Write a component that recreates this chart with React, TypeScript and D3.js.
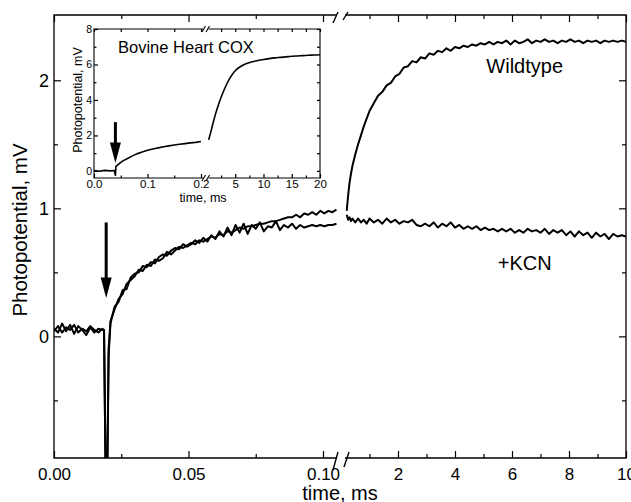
import React, { useRef, useEffect } from "react";
import * as d3 from "d3";

// main panel, early window (ms)
const tEarly = [
  0, 0.0015, 0.003, 0.0045, 0.006, 0.0075, 0.009, 0.0105, 0.012, 0.0135, 0.015, 0.0165, 0.018,
  0.0186, 0.0192, 0.0198, 0.0203, 0.021,
  0.0225, 0.024, 0.0255, 0.027, 0.0285, 0.03, 0.0315, 0.033, 0.0345, 0.036, 0.0375, 0.039,
  0.0405, 0.042, 0.0435, 0.045, 0.0465, 0.048, 0.0495, 0.051, 0.0525, 0.054, 0.0555, 0.057,
  0.0585, 0.06, 0.0615, 0.063, 0.0645, 0.066, 0.0675, 0.069, 0.0705, 0.072, 0.0735, 0.075,
  0.0765, 0.078, 0.0795, 0.081, 0.0825, 0.084, 0.0855, 0.087, 0.0885, 0.09, 0.0915, 0.093,
  0.0945, 0.096, 0.0975, 0.099, 0.1005, 0.102, 0.1035, 0.105,
];
const wildEarly = [
  0.06, 0.03, 0.1, 0.04, 0.09, 0.02, 0.08, 0.05, 0.01, 0.07, 0.03, 0.06, 0.05,
  0.05, -1.1, -1.1, -0.1, 0.12,
  0.21, 0.29, 0.33, 0.41, 0.44, 0.47, 0.52, 0.51, 0.56, 0.55, 0.6, 0.59,
  0.61, 0.66, 0.64, 0.67, 0.7, 0.69, 0.71, 0.73, 0.72, 0.75, 0.74, 0.76,
  0.78, 0.77, 0.8, 0.79, 0.82, 0.81, 0.83, 0.85, 0.84, 0.86, 0.86, 0.87,
  0.88, 0.88, 0.89, 0.9, 0.9, 0.91, 0.92, 0.93, 0.93, 0.95, 0.93, 0.96,
  0.95, 0.97, 0.95, 0.98, 0.96, 0.98, 0.97, 0.99,
];
const kcnEarly = [
  0.04, 0.08, 0.03, 0.07, 0.05, 0.09, 0.03, 0.06, 0.04, 0.08, 0.05, 0.03, 0.06,
  0.05, -1.1, -1.1, -0.15, 0.1,
  0.23, 0.27, 0.36, 0.37, 0.46, 0.49, 0.5, 0.55, 0.54, 0.58, 0.57, 0.62,
  0.64, 0.63, 0.67, 0.69, 0.68, 0.72, 0.7, 0.72, 0.75, 0.73, 0.77, 0.74,
  0.79, 0.76, 0.82, 0.78, 0.85, 0.79, 0.87, 0.81, 0.88, 0.8, 0.87, 0.84,
  0.89, 0.82, 0.86, 0.85, 0.9, 0.83, 0.87, 0.85, 0.88, 0.84, 0.87, 0.85,
  0.86, 0.87, 0.86, 0.87, 0.86, 0.87, 0.87, 0.88,
];

// main panel, late window (ms)
const tLate = [
  0.2, 0.25, 0.3, 0.35, 0.4, 0.5, 0.6, 0.7, 0.8, 0.9, 1.0,
  1.15, 1.3, 1.45, 1.6, 1.75, 1.9, 2.05, 2.2, 2.35, 2.5, 2.65, 2.8, 2.95, 3.1, 3.25,
  3.4, 3.55, 3.7, 3.85, 4.0, 4.15, 4.3, 4.45, 4.6, 4.75, 4.9, 5.05, 5.2, 5.35, 5.5,
  5.65, 5.8, 5.95, 6.1, 6.25, 6.4, 6.55, 6.7, 6.85, 7.0, 7.15, 7.3, 7.45, 7.6, 7.75,
  7.9, 8.05, 8.2, 8.35, 8.5, 8.65, 8.8, 8.95, 9.1, 9.25, 9.4, 9.55, 9.7, 9.85, 10.0,
];
const wildLate = [
  0.98, 1.1, 1.2, 1.27, 1.33, 1.42, 1.5, 1.57, 1.64, 1.7, 1.76,
  1.82, 1.88, 1.91, 1.96, 1.98, 2.03, 2.05, 2.1, 2.11, 2.15, 2.14, 2.18, 2.17, 2.21, 2.2,
  2.23, 2.22, 2.25, 2.23, 2.26, 2.25, 2.27, 2.26, 2.28, 2.27, 2.29, 2.28, 2.3, 2.28, 2.3,
  2.29, 2.31, 2.28, 2.31, 2.29, 2.3, 2.32, 2.29, 2.31, 2.3, 2.32, 2.3, 2.31, 2.29, 2.31,
  2.3, 2.32, 2.3, 2.31, 2.29, 2.31, 2.3, 2.31, 2.29, 2.31, 2.3, 2.31, 2.3, 2.31, 2.3,
];
const kcnLate = [
  0.95, 0.91, 0.93, 0.9, 0.92, 0.89, 0.92, 0.89, 0.91, 0.88, 0.92,
  0.89, 0.91, 0.88, 0.92, 0.89, 0.91, 0.88, 0.9, 0.89, 0.91, 0.87, 0.86, 0.88, 0.86, 0.89,
  0.85, 0.88, 0.86, 0.89, 0.85, 0.87, 0.84, 0.86, 0.84, 0.86, 0.83, 0.85, 0.83, 0.84, 0.82,
  0.84, 0.82, 0.84, 0.81, 0.83, 0.81, 0.84, 0.82, 0.83, 0.81, 0.84, 0.8, 0.83, 0.81, 0.83,
  0.79, 0.82, 0.78, 0.82, 0.79, 0.81, 0.77, 0.81, 0.78, 0.8, 0.76, 0.8, 0.78, 0.79, 0.78,
];

// inset: bovine heart COX
const tInsetEarly = [
  0, 0.01, 0.02, 0.03, 0.038, 0.04, 0.041, 0.045, 0.05, 0.055, 0.06, 0.07, 0.08,
  0.09, 0.1, 0.11, 0.12, 0.13, 0.14, 0.15, 0.16, 0.17, 0.18, 0.19, 0.2,
];
const coxEarly = [
  0.02, -0.02, 0.03, 0.0, 0.02, -0.25, 0.25, 0.35, 0.48, 0.58, 0.66, 0.82, 0.96,
  1.07, 1.16, 1.24, 1.3, 1.36, 1.41, 1.46, 1.5, 1.54, 1.58, 1.61, 1.66,
];
const tInsetLate = [
  0.3, 0.6, 1.0, 1.5, 2.0, 2.5, 3.0, 3.5, 4.0, 4.5, 5.0, 6.0, 7.0,
  8.0, 9.0, 10, 11, 12, 13, 14, 15, 16, 17, 18, 19, 20,
];
const coxLate = [
  1.75, 2.1, 2.6, 3.2, 3.7, 4.15, 4.55, 4.9, 5.2, 5.45, 5.65, 5.9, 6.05,
  6.15, 6.22, 6.28, 6.33, 6.37, 6.4, 6.43, 6.46, 6.48, 6.5, 6.52, 6.53, 6.55,
];

const yTicksMain = [0, 1, 2];
const yMinorMain = [-0.5, 0.5, 1.5];
const xTicksEarly = [0, 0.05, 0.1];
const xMinorEarly = [0.025, 0.075];
const xTicksLate = [2, 4, 6, 8, 10];
const xMinorLate = [1, 3, 5, 7, 9];
const yTicksInset = [0, 2, 4, 6, 8];
const yMinorInset = [1, 3, 5, 7];
const xTicksInsetEarly = [0, 0.1, 0.2];
const xMinorInsetEarly = [0.05, 0.15];
const xTicksInsetLate = [5, 10, 15, 20];
const xMinorInsetLate = [2.5, 7.5, 12.5, 17.5];

const FONT = "'Liberation Sans', Arial, Helvetica, sans-serif";

export default function App() {
  const svgRef = useRef<SVGSVGElement>(null);

  useEffect(() => {
    const svg = d3.select(svgRef.current);
    svg.selectAll("*").remove();
    const width = 631;
    const height = 502;
    svg.attr("width", width).attr("height", height).style("font-family", FONT);

    const frame = { left: 54, right: 626, top: 15, bottom: 458 };
    const xEarly = d3.scaleLinear().domain([0, 0.1]).range([54, 323]);
    const xLate = d3.scaleLinear().domain([0, 10]).range([341, 626]);
    const y = d3.scaleLinear().domain([-0.95, 2.51]).range([frame.bottom, frame.top]);

    // tick helper: draw ticks only, no domain line
    const ticks = (g: any, axis: any, fontSize: number) => {
      g.call(axis);
      g.select(".domain").remove();
      g.selectAll(".tick line").attr("stroke", "#000").attr("stroke-width", 1.2);
      g.selectAll("text").attr("fill", "#000").style("font-size", fontSize + "px");
      g.attr("font-family", null).attr("font-size", null);
    };
    const none = () => "";

    const axes = svg.append("g");
    const bx = `translate(0,${frame.bottom})`;
    const tx = `translate(0,${frame.top})`;
    ticks(axes.append("g").attr("transform", bx),
      d3.axisBottom(xEarly).tickValues(xTicksEarly).tickSize(-7).tickPadding(10).tickFormat(d3.format(".2f")), 17);
    ticks(axes.append("g").attr("transform", bx),
      d3.axisBottom(xEarly).tickValues(xMinorEarly).tickSize(-4).tickFormat(none), 17);
    ticks(axes.append("g").attr("transform", bx),
      d3.axisBottom(xLate).tickValues(xTicksLate).tickSize(-7).tickPadding(10).tickFormat(d3.format("d")), 17);
    ticks(axes.append("g").attr("transform", bx),
      d3.axisBottom(xLate).tickValues(xMinorLate).tickSize(-4).tickFormat(none), 17);
    ticks(axes.append("g").attr("transform", tx),
      d3.axisTop(xEarly).tickValues(xTicksEarly).tickSize(-7).tickFormat(none), 17);
    ticks(axes.append("g").attr("transform", tx),
      d3.axisTop(xEarly).tickValues(xMinorEarly).tickSize(-4).tickFormat(none), 17);
    ticks(axes.append("g").attr("transform", tx),
      d3.axisTop(xLate).tickValues(xTicksLate).tickSize(-7).tickFormat(none), 17);
    ticks(axes.append("g").attr("transform", tx),
      d3.axisTop(xLate).tickValues(xMinorLate).tickSize(-4).tickFormat(none), 17);
    ticks(axes.append("g").attr("transform", `translate(${frame.left},0)`),
      d3.axisLeft(y).tickValues(yTicksMain).tickSize(-7).tickPadding(5).tickFormat(d3.format("d")), 18);
    ticks(axes.append("g").attr("transform", `translate(${frame.left},0)`),
      d3.axisLeft(y).tickValues(yMinorMain).tickSize(-4).tickFormat(none), 18);
    ticks(axes.append("g").attr("transform", `translate(${frame.right},0)`),
      d3.axisRight(y).tickValues(yTicksMain).tickSize(-7).tickFormat(none), 18);
    ticks(axes.append("g").attr("transform", `translate(${frame.right},0)`),
      d3.axisRight(y).tickValues(yMinorMain).tickSize(-4).tickFormat(none), 18);

    // frame with axis break
    const gapL = xEarly(0.105);
    const gapR = xLate(0.14);
    const framePath = d3.path();
    framePath.moveTo(gapL, frame.top);
    framePath.lineTo(frame.left, frame.top);
    framePath.lineTo(frame.left, frame.bottom);
    framePath.lineTo(gapL, frame.bottom);
    framePath.moveTo(gapR, frame.top);
    framePath.lineTo(frame.right, frame.top);
    framePath.lineTo(frame.right, frame.bottom);
    framePath.lineTo(gapR, frame.bottom);
    svg.append("path").attr("d", framePath.toString())
      .attr("fill", "none").attr("stroke", "#000").attr("stroke-width", 1.3);

    const slashes = (yy: number, x0: number, dx: number, up: number, down: number) => {
      [x0, x0 + dx].forEach((xs, i) => {
        svg.append("line")
          .attr("x1", xs).attr("y1", yy + (i === 0 ? down : down - 3))
          .attr("x2", xs + 5).attr("y2", yy - up)
          .attr("stroke", "#000").attr("stroke-width", 1.4);
      });
    };
    slashes(frame.top, 333, 10, 3, 8);
    slashes(frame.bottom, 333, 11, 6, 12);

    // data
    svg.append("defs").append("clipPath").attr("id", "mainClip")
      .append("rect").attr("x", frame.left).attr("y", frame.top)
      .attr("width", frame.right - frame.left).attr("height", frame.bottom - frame.top);
    const plot = svg.append("g").attr("clip-path", "url(#mainClip)");

    const drawLine = (g: any, xs: number[], vs: number[], sx: any, sy: any, w: number, curve: any) => {
      const line = d3.line<number>()
        .x((_, i) => sx(xs[i]))
        .y((d) => sy(d))
        .curve(curve);
      g.append("path").attr("d", line(vs))
        .attr("fill", "none").attr("stroke", "#000")
        .attr("stroke-width", w).attr("stroke-linejoin", "round");
    };
    drawLine(plot, tEarly, kcnEarly, xEarly, y, 2, d3.curveLinear);
    drawLine(plot, tEarly, wildEarly, xEarly, y, 2, d3.curveLinear);
    drawLine(plot, tLate, kcnLate, xLate, y, 2, d3.curveLinear);
    drawLine(plot, tLate, wildLate, xLate, y, 2, d3.curveLinear);

    // arrow marking the flash
    const arrow = (x: number, yTop: number, yBase: number, yTip: number, half: number) => {
      svg.append("line").attr("x1", x).attr("x2", x).attr("y1", yTop).attr("y2", yBase + 1)
        .attr("stroke", "#000").attr("stroke-width", 3);
      svg.append("path")
        .attr("d", `M${x - half},${yBase}L${x + half},${yBase}L${x},${yTip}Z`)
        .attr("fill", "#000");
    };
    arrow(xEarly(0.0194), y(0.89), y(0.46), y(0.3), 5.5);

    // labels
    svg.append("text").attr("x", xLate(5.1)).attr("y", y(2.06))
      .style("font-size", "20px").text("Wildtype");
    svg.append("text").attr("x", xLate(5.5)).attr("y", y(0.52))
      .style("font-size", "20px").text("+KCN");
    svg.append("text").attr("x", 340).attr("y", 500).attr("text-anchor", "middle")
      .style("font-size", "20px").text("time, ms");
    svg.append("text").attr("transform", "translate(27,230) rotate(-90)")
      .attr("text-anchor", "middle").style("font-size", "20.5px").text("Photopotential, mV");

    // inset
    const inset = { left: 94, right: 320, top: 29, bottom: 178 };
    const xInEarly = d3.scaleLinear().domain([0, 0.2]).range([94, 201]);
    const xInLate = d3.scaleLinear().domain([0, 20]).range([207, 320]);
    const yIn = d3.scaleLinear().domain([-0.4, 8]).range([inset.bottom, inset.top]);

    const ig = svg.append("g");
    ig.append("rect").attr("x", inset.left).attr("y", inset.top)
      .attr("width", inset.right - inset.left).attr("height", inset.bottom - inset.top)
      .attr("fill", "#fff");

    const ibx = `translate(0,${inset.bottom})`;
    const itx = `translate(0,${inset.top})`;
    ticks(ig.append("g").attr("transform", ibx),
      d3.axisBottom(xInEarly).tickValues(xTicksInsetEarly).tickSize(-4).tickPadding(2).tickFormat(d3.format(".1f")), 11.5);
    ticks(ig.append("g").attr("transform", ibx),
      d3.axisBottom(xInEarly).tickValues(xMinorInsetEarly).tickSize(-2.5).tickFormat(none), 11);
    ticks(ig.append("g").attr("transform", ibx),
      d3.axisBottom(xInLate).tickValues(xTicksInsetLate).tickSize(-4).tickPadding(2).tickFormat(d3.format("d")), 11.5);
    ticks(ig.append("g").attr("transform", ibx),
      d3.axisBottom(xInLate).tickValues(xMinorInsetLate).tickSize(-2.5).tickFormat(none), 11);
    ticks(ig.append("g").attr("transform", itx),
      d3.axisTop(xInEarly).tickValues(xTicksInsetEarly.concat(xMinorInsetEarly)).tickSize(-3).tickFormat(none), 11);
    ticks(ig.append("g").attr("transform", itx),
      d3.axisTop(xInLate).tickValues(xTicksInsetLate.concat(xMinorInsetLate)).tickSize(-3).tickFormat(none), 11);
    ticks(ig.append("g").attr("transform", `translate(${inset.left},0)`),
      d3.axisLeft(yIn).tickValues(yTicksInset).tickSize(-4).tickPadding(2).tickFormat(d3.format("d")), 10.5);
    ticks(ig.append("g").attr("transform", `translate(${inset.left},0)`),
      d3.axisLeft(yIn).tickValues(yMinorInset).tickSize(-2.5).tickFormat(none), 10.5);
    ticks(ig.append("g").attr("transform", `translate(${inset.right},0)`),
      d3.axisRight(yIn).tickValues(yTicksInset.concat(yMinorInset)).tickSize(-3).tickFormat(none), 10.5);

    const igapL = xInEarly(0.2) + 2;
    const igapR = xInLate(0.3);
    const ip = d3.path();
    ip.moveTo(igapL, inset.top);
    ip.lineTo(inset.left, inset.top);
    ip.lineTo(inset.left, inset.bottom);
    ip.lineTo(igapL, inset.bottom);
    ip.moveTo(igapR, inset.top);
    ip.lineTo(inset.right, inset.top);
    ip.lineTo(inset.right, inset.bottom);
    ip.lineTo(igapR, inset.bottom);
    ig.append("path").attr("d", ip.toString())
      .attr("fill", "none").attr("stroke", "#000").attr("stroke-width", 1.1);
    [inset.top, inset.bottom].forEach((yy) => {
      [igapL - 1, igapL + 3].forEach((xs) => {
        ig.append("line").attr("x1", xs).attr("y1", yy + 3).attr("x2", xs + 3.5).attr("y2", yy - 3)
          .attr("stroke", "#000").attr("stroke-width", 1.1);
      });
    });

    drawLine(ig, tInsetEarly, coxEarly, xInEarly, yIn, 1.6, d3.curveLinear);
    drawLine(ig, tInsetLate, coxLate, xInLate, yIn, 1.6, d3.curveMonotoneX);

    arrow(xInEarly(0.04), yIn(2.75), yIn(1.6), yIn(0.45), 5.5);

    ig.append("text").attr("x", 118).attr("y", 53)
      .style("font-size", "16.5px").text("Bovine Heart COX");
    ig.append("text").attr("x", 203).attr("y", 202).attr("text-anchor", "middle")
      .style("font-size", "12.5px").text("time, ms");
    ig.append("text").attr("transform", "translate(82,100) rotate(-90)")
      .attr("text-anchor", "middle").style("font-size", "12.5px").text("Photopotential, mV");
  }, []);

  return (
    <div style={{ position: "absolute", left: 0, top: 0, width: 631, height: 502, background: "#fff" }}>
      <svg ref={svgRef}></svg>
    </div>
  );
}
